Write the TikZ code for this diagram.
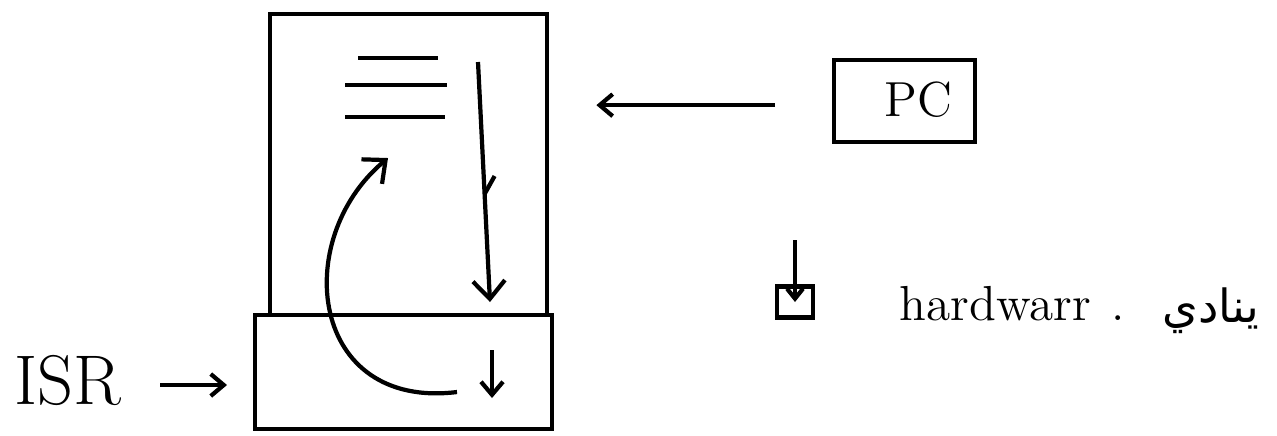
\documentclass[tikz,border=0pt]{standalone}
\usepackage{fontspec}
\newfontfamily\arabicfont[Script=Arabic]{DejaVu Sans}
\TeXXeTstate=1
\usetikzlibrary{arrows.meta,positioning,calc}

\begin{document}
\begin{tikzpicture}[x=0.01cm,y=-0.01cm,line width=1.2pt,
  box/.style={rectangle,draw,inner sep=0pt},
  flow/.style={-{Straight Barb[length=1.8mm,width=3.2mm]}},
  smallflow/.style={-{Straight Barb[length=1.3mm,width=2.2mm]}}]
\useasboundingbox (0,0) rectangle (1277,435);

% Program memory and ISR block
\node[box,minimum width=2.77cm,minimum height=3.01cm,anchor=north west] (mem) at (268,12) {};
\node[box,minimum width=2.97cm,minimum height=1.14cm,anchor=north west] (isr) at (253,313) {};

% Instructions
\draw (358,58) -- (438,58);
\draw (345,85) -- (447,85);
\draw (345,117) -- (445,117);

% Sequential flow
\coordinate (runtop) at (478,62);
\coordinate (runbot) at (490,302);
\draw[flow] (runtop) -- (runbot);
\draw ($(runtop)!0.55!(runbot)$) -- ++(10,-18);
\coordinate (isrtop) at (492,350);
\coordinate (isrbot) at (492,398);
\draw[smallflow] (isrtop) -- (isrbot);

% Return from ISR
\coordinate (retfrom) at (457,392);
\coordinate (retto) at (388,158);
\draw[flow] (retfrom) .. controls (310,410) and (290,240) .. (retto);

% Program counter
\node[box,minimum width=1.41cm,minimum height=0.82cm,anchor=north west] (pc) at (832,58) {};
\node[font=\fontsize{14}{16}\selectfont] (pclabel) at (918,100) {PC};
\draw[smallflow] ($(pc.west)+(-57,4)$) -- ($(mem.east |- pc.west)+(47,4)$);

% ISR label
\node[font=\fontsize{20}{24}\selectfont] (isrlabel) at (68,380) {ISR};
\draw[smallflow] ($(isrlabel.east)+(25,5)$) -- ($(isr.west |- isrlabel.east)+(-26,5)$);

% Hardware interrupt
\node[box,minimum width=0.36cm,minimum height=0.31cm] (hw) at (795,302) {};
\draw[-{Straight Barb[length=1mm,width=1.6mm]}] ($(hw.north)+(0,-44)$) -- (hw.center);
\node[font=\fontsize{14}{16}\selectfont,anchor=base west] (hwlabel) at (886,320) {hardwarr\hspace{0.4em}.};
\node[font=\fontsize{13}{16}\selectfont\arabicfont,anchor=base east] (calls) at (1273,322) {\beginR ينادي\endR};
\end{tikzpicture}
\end{document}
